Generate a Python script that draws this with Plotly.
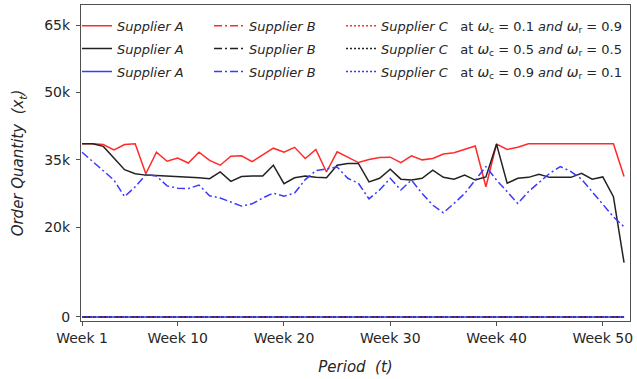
import plotly.graph_objects as go

weeks = list(range(1, 53))
tick_vals = [1, 10, 20, 30, 40, 50]
tick_text = ["Week 1", "Week 10", "Week 20", "Week 30", "Week 40", "Week 50"]
y_tick_vals = [0, 20000, 35000, 50000, 65000]
y_tick_text = ["0", "20k", "35k", "50k", "65k"]

# Supplier A at wc=0.1, wr=0.9 (red solid), in thousands
a_01 = [38.6, 38.6, 38.4, 37.2, 38.4, 38.6, 31.9, 36.7, 34.7, 35.4,
        34.3, 36.7, 34.9, 33.8, 35.8, 35.9, 34.6, 36.1, 37.6, 36.7,
        37.8, 35.3, 37.3, 32.3, 36.8, 35.6, 34.4, 35.1, 35.5, 35.6,
        34.4, 35.9, 35.0, 35.3, 36.3, 36.6, 37.3, 38.1, 29.0, 38.5,
        37.3, 37.8, 38.6, 38.6, 38.6, 38.6, 38.6, 38.6, 38.6, 38.6,
        38.6, 31.3]
# Supplier A at wc=0.5, wr=0.5 (black solid)
a_05 = [38.6, 38.6, 38.0, 35.4, 32.8, 31.9, 31.6, 31.5, 31.4, 31.3,
        31.2, 31.0, 30.8, 32.3, 30.2, 31.3, 31.4, 31.4, 33.8, 29.7,
        31.0, 31.4, 31.1, 31.0, 33.8, 34.2, 34.2, 30.1, 30.9, 32.9,
        30.7, 30.5, 30.9, 32.7, 31.1, 30.7, 31.6, 30.5, 31.2, 38.5,
        29.8, 30.9, 31.1, 31.8, 31.1, 31.1, 31.1, 32.0, 30.7, 31.2,
        26.8, 12.1]
# Supplier B at wc=0.9, wr=0.1 (blue dash-dot)
b_09 = [36.7, 34.6, 32.7, 30.5, 26.8, 29.0, 31.7, 31.4, 29.2, 28.7,
        28.6, 29.4, 27.0, 26.5, 25.6, 24.7, 25.2, 26.5, 27.6, 26.9,
        27.6, 30.6, 32.6, 33.0, 33.4, 30.9, 29.8, 26.3, 28.3, 30.9,
        28.3, 30.5, 27.5, 24.9, 23.2, 25.3, 27.5, 30.5, 33.5, 30.5,
        27.9, 25.3, 27.9, 29.9, 32.0, 33.5, 32.4, 30.7, 27.9, 24.9,
        22.3, 20.1]
zeros = [0.0] * 52

RED = "#ff2a2a"
BLACK = "#222222"
BLUE = "#3a3aff"
FONT = "DejaVu Sans"

def c_label(wc, wr):
    return ("<i>Supplier C</i>&nbsp;&nbsp;&nbsp;at&nbsp;<span style='font-size:14px'><i>ω</i></span><sub>c</sub>&nbsp;=&nbsp;"
            f"{wc}&nbsp;<i>and</i>&nbsp;<span style='font-size:14px'><i>ω</i></span><sub>r</sub>&nbsp;=&nbsp;{wr}")

series = [
    # (name, values, color, dash, legend)
    ("<i>Supplier A</i>", a_01, RED, "solid", "legend"),
    ("<i>Supplier A</i>", a_05, BLACK, "solid", "legend"),
    ("<i>Supplier A</i>", zeros, BLUE, "solid", "legend"),
    ("<i>Supplier B</i>", zeros, RED, "8px,3px,2px,3px", "legend2"),
    ("<i>Supplier B</i>", zeros, BLACK, "8px,3px,2px,3px", "legend2"),
    ("<i>Supplier B</i>", b_09, BLUE, "8px,3px,2px,3px", "legend2"),
    (c_label("0.1", "0.9"), zeros, RED, "2px,2px", "legend3"),
    (c_label("0.5", "0.5"), zeros, BLACK, "2px,2px", "legend3"),
    (c_label("0.9", "0.1"), zeros, BLUE, "2px,2px", "legend3"),
]

fig = go.Figure()
for i, (name, vals, color, dash, leg) in enumerate(series):
    fig.add_trace(go.Scatter(
        x=weeks, y=[v * 1000 for v in vals], mode="lines", name=name,
        line=dict(color=color, width=1.5, dash=dash),
        legend=leg, legendgroup=f"g{i}",
    ))

leg_common = dict(
    bgcolor="rgba(0,0,0,0)", borderwidth=0, yanchor="top", y=0.982,
    xanchor="left", font=dict(family=FONT, size=13, color="#262626"),
    tracegroupgap=3, traceorder="grouped", itemwidth=30,
)
fig.update_layout(
    width=637, height=379,
    margin=dict(l=81, r=7, t=5, b=58),
    paper_bgcolor="white", plot_bgcolor="white",
    font=dict(family=FONT, color="#262626"),
    legend=dict(x=-0.0073, **leg_common),
    legend2=dict(x=0.2332, **leg_common),
    legend3=dict(x=0.4736, **leg_common),
    showlegend=True,
)
fig.update_xaxes(
    range=[0.9, 52.56], tickvals=tick_vals, ticktext=tick_text,
    showgrid=False, zeroline=False, showline=True, mirror=True,
    linecolor="#505050", linewidth=1.2, ticks="outside", ticklen=4,
    tickcolor="#505050", tickfont=dict(family=FONT, size=14, color="#262626"),
    title=dict(text="<i>Period&nbsp;&nbsp;(t)</i>", font=dict(family=FONT, size=15, color="#262626"), standoff=16),
)
fig.update_yaxes(
    range=[-900, 69500], tickvals=y_tick_vals, ticktext=y_tick_text,
    showgrid=False, zeroline=False, showline=True, mirror=True,
    linecolor="#505050", linewidth=1.2, ticks="outside", ticklen=4,
    ticklabelstandoff=3,
    tickcolor="#505050", tickfont=dict(family=FONT, size=14, color="#262626"),
    title=dict(text="<i>Order Quantity&nbsp;&nbsp;(x<sub>t</sub>)</i>", font=dict(family=FONT, size=15, color="#262626"), standoff=16),
)

fig.write_html("out.html")
